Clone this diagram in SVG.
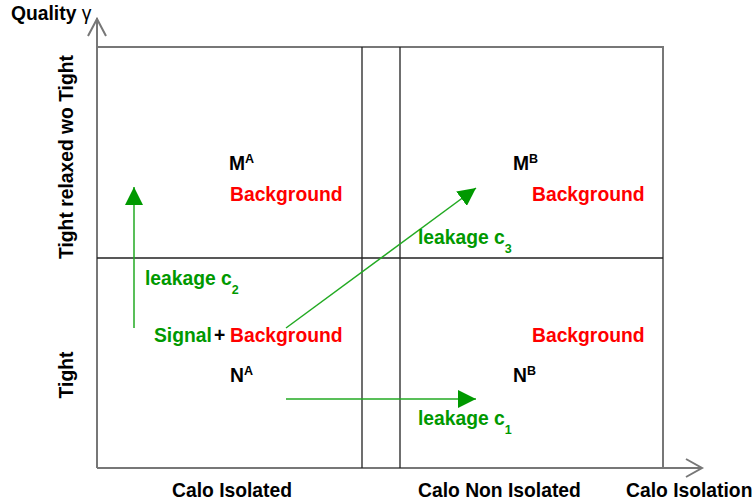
<svg xmlns="http://www.w3.org/2000/svg" width="755" height="504" viewBox="0 0 755 504">
<style>
text{font-family:"Liberation Sans",Arial,sans-serif;font-weight:bold;font-size:19.3px}
.k{fill:#000}
.r{fill:#ff0000}
.g{fill:#009900}
.sup{font-size:12.5px}
.ax{stroke:#777;stroke-width:2;fill:none}
.dv{stroke:#222;stroke-width:1.3;fill:none}
.ar{stroke:#22aa22;stroke-width:1.5;fill:none}
</style>
<defs>
<marker id="ah" markerWidth="18" markerHeight="18" viewBox="0 0 18 18" refX="18" refY="9" orient="auto" markerUnits="userSpaceOnUse">
<path d="M0,0 L18,9 L0,18 Z" fill="#009900"/>
</marker>
</defs>
<g id="frame">
<path class="ax" d="M97,468 V18 M88,36 L97,19 L106,36"/>
<path class="ax" d="M97,468 H702 M686,459 L702,468 L686,477"/>
<path class="ax" d="M97,47 H663 V468"/>
<path class="dv" d="M97,258 H663 M362,47 V468 M400,47 V468"/>
</g>
<g id="labels">
<text x="11" y="20">Quality <tspan font-weight="normal">γ</tspan></text>
<text transform="translate(73,157) rotate(-90)" text-anchor="middle">Tight relaxed wo Tight</text>
<text transform="translate(73,375) rotate(-90)" text-anchor="middle">Tight</text>
<text x="172" y="497">Calo Isolated</text>
<text x="418" y="497">Calo Non Isolated</text>
<text x="626" y="497">Calo Isolation</text>
</g>
<g id="MA"><text x="229" y="170">M<tspan class="sup" dy="-7">A</tspan></text><text class="r" x="230" y="201">Background</text></g>
<g id="MB"><text x="513" y="170">M<tspan class="sup" dy="-7">B</tspan></text><text class="r" x="532" y="201">Background</text></g>
<g id="NA"><text class="g" x="154" y="342">Signal</text><text x="214" y="342">+</text><text class="r" x="230" y="342">Background</text><text x="230" y="382">N<tspan class="sup" dy="-7">A</tspan></text></g>
<g id="NB"><text class="r" x="532" y="342">Background</text><text x="513" y="382">N<tspan class="sup" dy="-7">B</tspan></text></g>
<g id="connectors">
<line class="ar" x1="134" y1="328" x2="134" y2="187" marker-end="url(#ah)"/>
<line class="ar" x1="286" y1="399" x2="476" y2="399" marker-end="url(#ah)"/>
<line class="ar" x1="286" y1="328" x2="476" y2="188" marker-end="url(#ah)"/>
<text class="g" x="145" y="285">leakage c<tspan class="sup" dy="9">2</tspan></text>
<text class="g" x="418" y="244">leakage c<tspan class="sup" dy="9">3</tspan></text>
<text class="g" x="418" y="425">leakage c<tspan class="sup" dy="9">1</tspan></text>
</g>
</svg>
